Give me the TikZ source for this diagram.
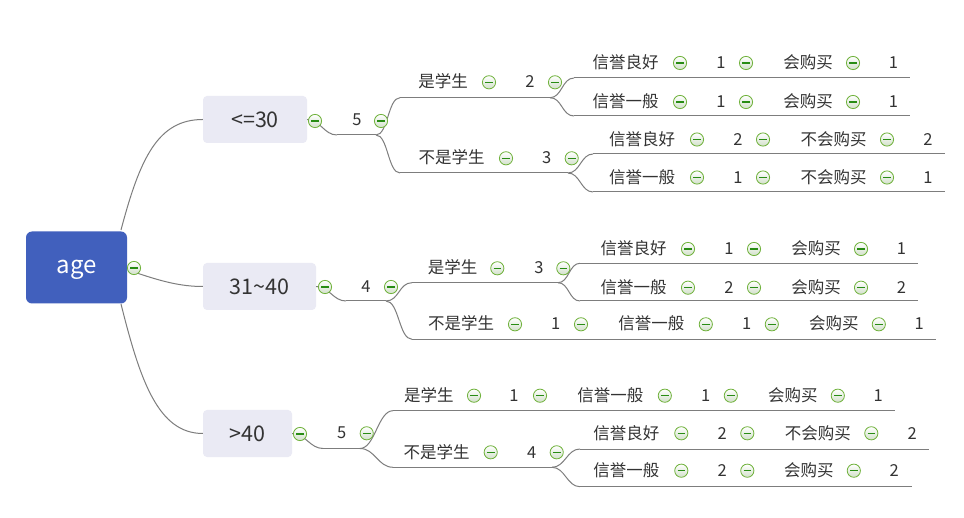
\documentclass[tikz,border=0pt]{standalone}
\usepackage{fontspec}
\setmainfont{Noto Sans CJK SC}
\usetikzlibrary{shadings}
\definecolor{rootc}{RGB}{65,96,189}
\definecolor{boxc}{RGB}{234,234,244}
\definecolor{linec}{RGB}{125,125,125}
\definecolor{txt}{RGB}{51,51,51}
\definecolor{icoedge}{RGB}{112,178,60}
\definecolor{icobot}{RGB}{210,224,202}
\definecolor{icominus}{RGB}{40,140,20}
\newcommand\lblfont{\fontsize{16.5}{20}\selectfont}
\newcommand\Lb[3]{\node[lbl] (#1) at (#2) {#3};}
\newcommand\Ic[2]{\node[ico] (#1) at (#2) {};}
\tikzset{
  lbl/.style={font=\lblfont, text=txt, inner sep=0pt, text height=7.4pt, text depth=0pt, yshift=-2pt},
  ico/.style={circle, draw=icoedge, line width=0.8pt, minimum size=13.2pt, inner sep=0pt,
    top color=white, bottom color=icobot,
    path picture={\draw[icominus, line width=1.3pt]
      ([xshift=-3.8pt]path picture bounding box.center) -- ([xshift=3.8pt]path picture bounding box.center);}},
  conn/.style={draw=linec, line width=1pt},
  rootbox/.style={fill=rootc, rounded corners=6pt, text=white, font=\fontsize{24}{28}\selectfont,
    minimum width=101pt, minimum height=72pt, inner sep=0pt, text height=13pt, text depth=0pt},
  topicbox/.style={fill=boxc, rounded corners=4pt, text=txt, font=\fontsize{21.5}{26}\selectfont,
    minimum height=47pt, inner sep=0pt, text height=15.7pt, text depth=0pt}
}
\begin{document}
\begin{tikzpicture}[x=1pt,y=-1pt]
\useasboundingbox[fill=white] (0,0) rectangle (964,518);
% root and first-level boxes
\node[rootbox] (age) at (76.5,267.5) {age};
\node[topicbox, minimum width=104pt] (b1) at (255,119.5) {<=30};
\node[topicbox, minimum width=113pt] (b2) at (259.5,286.5) {31\~{}40};
\node[topicbox, minimum width=89pt] (b3) at (247.5,433.5) {>40};
% connector end points
\coordinate (ar) at (121,230);
\coordinate (am) at (131,271);
\coordinate (ab) at (121,304);
% branch 1
\coordinate (c1S) at (337,135);   \coordinate (c1E) at (376,135);
\coordinate (c11S) at (400,97.7); \coordinate (c11E) at (550,97.7);
\coordinate (c12S) at (400,173);  \coordinate (c12E) at (568,173);
\coordinate (rAS) at (574,78);    \coordinate (rAE) at (910,78);
\coordinate (rBS) at (574,116);   \coordinate (rBE) at (910,116);
\coordinate (rCS) at (593,154);   \coordinate (rCE) at (945,154);
\coordinate (rDS) at (593,192);   \coordinate (rDE) at (945,192);
% branch 2
\coordinate (c2S) at (346,301);   \coordinate (c2E) at (386,301);
\coordinate (c21S) at (412,282.7);\coordinate (c21E) at (558,282.7);
\coordinate (c22S) at (412,339.3);\coordinate (c22E) at (936,339.3);
\coordinate (rES) at (580,263.3); \coordinate (rEE) at (918,263.3);
\coordinate (rFS) at (580,301);   \coordinate (rFE) at (918,301);
% branch 3
\coordinate (c3S) at (323,448.5); \coordinate (c3E) at (360,448.5);
\coordinate (c31S) at (393,410.7);\coordinate (c31E) at (895,410.7);
\coordinate (c32S) at (393,467.3);\coordinate (c32E) at (552,467.3);
\coordinate (rGS) at (580,449);   \coordinate (rGE) at (929,449);
\coordinate (rHS) at (580,486.7); \coordinate (rHE) at (912,486.7);
% level-1 connectors
\draw[conn] (ar) .. controls (140,158) and (158,119.5) .. (b1.west);
\draw[conn] (am) .. controls (160,281) and (180,286.5) .. (b2.west);
\draw[conn] (ab) .. controls (140,380) and (158,433.5) .. (b3.west);
\draw[conn] (b1.east) .. controls +(13,0) and +(-13,0) .. (c1S);
\draw[conn] (b2.east) .. controls +(13,0) and +(-13,0) .. (c2S);
\draw[conn] (b3.east) .. controls +(13,0) and +(-13,0) .. (c3S);
% underlines
\foreach \n in {c1,c11,c12,rA,rB,rC,rD,c2,c21,c22,rE,rF,c3,c31,c32,rG,rH}
  \draw[conn] (\n S) -- (\n E);
% branch connectors
\draw[conn] (c1E) .. controls +(12,0) and +(-12,0) .. (c11S);
\draw[conn] (c1E) .. controls +(12,0) and +(-12,0) .. (c12S);
\draw[conn] (c11E) .. controls +(12,0) and +(-12,0) .. (rAS);
\draw[conn] (c11E) .. controls +(12,0) and +(-12,0) .. (rBS);
\draw[conn] (c12E) .. controls +(12,0) and +(-12,0) .. (rCS);
\draw[conn] (c12E) .. controls +(12,0) and +(-12,0) .. (rDS);
\draw[conn] (c2E) .. controls +(13,0) and +(-13,0) .. (c21S);
\draw[conn] (c2E) .. controls +(13,0) and +(-13,0) .. (c22S);
\draw[conn] (c21E) .. controls +(11,0) and +(-11,0) .. (rES);
\draw[conn] (c21E) .. controls +(11,0) and +(-11,0) .. (rFS);
\draw[conn] (c3E) .. controls +(15,0) and +(-15,0) .. (c31S);
\draw[conn] (c3E) .. controls +(15,0) and +(-15,0) .. (c32S);
\draw[conn] (c32E) .. controls +(13,0) and +(-13,0) .. (rGS);
\draw[conn] (c32E) .. controls +(13,0) and +(-13,0) .. (rHS);
% icons of root and boxes
\Ic{ia}{134,268}
\Ic{ib1}{315,121}
\Ic{ib2}{325,287}
\Ic{ib3}{300,434}
% ---- branch 1
\Lb{t1}{357,120}{5} \Ic{i1}{381,121}
\Lb{t11}{443,82}{是学生} \Ic{i11a}{489,82.3} \Lb{t11n}{530,82}{2} \Ic{i11b}{555,82.3}
\Lb{t12}{451.7,158.3}{不是学生} \Ic{i12a}{506,158.3} \Lb{t12n}{546.7,158.3}{3} \Ic{i12b}{571.7,158.3}
% row A
\Lb{tA1}{625.5,63}{信誉良好} \Ic{iA1}{680,63} \Lb{tA2}{721,63}{1} \Ic{iA2}{746,63}
\Lb{tA3}{808,63}{会购买} \Ic{iA3}{853,63} \Lb{tA4}{893.5,63}{1}
% row B
\Lb{tB1}{625.5,102}{信誉一般} \Ic{iB1}{680,102} \Lb{tB2}{721,102}{1} \Ic{iB2}{746,102}
\Lb{tB3}{808,102}{会购买} \Ic{iB3}{853,102} \Lb{tB4}{893.5,102}{1}
% row C
\Lb{tC1}{642,139.5}{信誉良好} \Ic{iC1}{697,139.5} \Lb{tC2}{738,139.5}{2} \Ic{iC2}{763,139.5}
\Lb{tC3}{833.5,139.5}{不会购买} \Ic{iC3}{887,139.5} \Lb{tC4}{928,139.5}{2}
% row D
\Lb{tD1}{642,177.5}{信誉一般} \Ic{iD1}{697,177.5} \Lb{tD2}{738,177.5}{1} \Ic{iD2}{763,177.5}
\Lb{tD3}{833.5,177.5}{不会购买} \Ic{iD3}{887,177.5} \Lb{tD4}{928,177.5}{1}
% ---- branch 2
\Lb{t2}{366,286.5}{4} \Ic{i2}{391,287}
\Lb{t21}{452.5,267.7}{是学生} \Ic{i21a}{497.3,268.3} \Lb{t21n}{539,268}{3} \Ic{i21b}{563.3,268.3}
\Lb{t22}{461,324.3}{不是学生} \Ic{i22a}{515,324.3} \Lb{t22n}{555.7,324.3}{1} \Ic{i22b}{581,324.3}
\Lb{t22c}{651.3,324.3}{信誉一般} \Ic{i22c}{705.8,324.3} \Lb{t22d}{746.8,324.3}{1} \Ic{i22d}{771.8,324.3}
\Lb{t22e}{833.8,324.3}{会购买} \Ic{i22e}{878.8,324.3} \Lb{t22f}{919.3,324.3}{1}
% row E
\Lb{tE1}{633.5,249}{信誉良好} \Ic{iE1}{688,249} \Lb{tE2}{729,249}{1} \Ic{iE2}{754,249}
\Lb{tE3}{816,249}{会购买} \Ic{iE3}{861,249} \Lb{tE4}{901.5,249}{1}
% row F
\Lb{tF1}{633.5,287.7}{信誉一般} \Ic{iF1}{688,287.7} \Lb{tF2}{729,287.7}{2} \Ic{iF2}{754,287.7}
\Lb{tF3}{816,287.7}{会购买} \Ic{iF3}{861,287.7} \Lb{tF4}{901.5,287.7}{2}
% ---- branch 3
\Lb{t3}{341.7,433}{5} \Ic{i3}{366.7,433.3}
\Lb{t31}{428.8,395.7}{是学生} \Ic{i31a}{474,395.7} \Lb{t31n}{514,395.7}{1} \Ic{i31b}{540,395.7}
\Lb{t31c}{610.3,395.7}{信誉一般} \Ic{i31c}{664.8,395.7} \Lb{t31d}{705.8,395.7}{1} \Ic{i31d}{730.8,395.7}
\Lb{t31e}{792.8,395.7}{会购买} \Ic{i31e}{837.8,395.7} \Lb{t31f}{878.3,395.7}{1}
\Lb{t32}{436.7,452.3}{不是学生} \Ic{i32a}{490.7,452.3} \Lb{t32n}{531.7,452.3}{4} \Ic{i32b}{556.7,452.3}
% row G
\Lb{tG1}{626.3,433.3}{信誉良好} \Ic{iG1}{681.3,433.3} \Lb{tG2}{722.3,433.3}{2} \Ic{iG2}{747.3,433.3}
\Lb{tG3}{817.8,433.3}{不会购买} \Ic{iG3}{871.3,433.3} \Lb{tG4}{912.3,433.3}{2}
% row H
\Lb{tH1}{626.3,470.7}{信誉一般} \Ic{iH1}{681.3,470.7} \Lb{tH2}{722.3,470.7}{2} \Ic{iH2}{747.3,470.7}
\Lb{tH3}{808.8,470.7}{会购买} \Ic{iH3}{853.8,470.7} \Lb{tH4}{894.3,470.7}{2}
\end{tikzpicture}
\end{document}
